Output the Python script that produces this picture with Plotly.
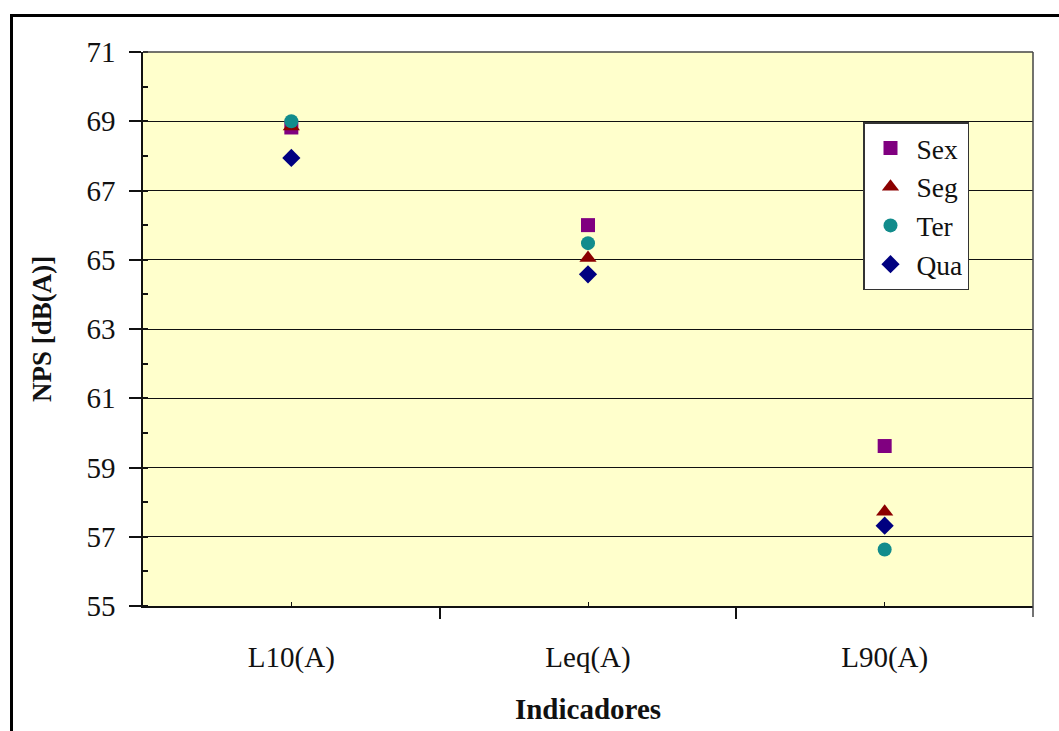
import plotly.graph_objects as go

# Indicator categories and sound pressure levels per weekday
categories = ["L10(A)", "Leq(A)", "L90(A)"]
sex = [68.82, 66.0, 59.62]
seg = [68.85, 65.05, 57.72]
ter = [69.0, 65.48, 56.63]
qua = [67.94, 64.58, 57.32]

series = [
    ("Sex", sex, "square", "#800080", 14),
    ("Seg", seg, "triangle-up", "#8B0000", 15),
    ("Ter", ter, "circle", "#128C8C", 14),
    ("Qua", qua, "diamond", "#000080", 14),
]

xpos = list(range(len(categories)))
serif = "Liberation Serif, Times New Roman, serif"

fig = go.Figure()
for name, vals, sym, col, sz in series:
    fig.add_trace(go.Scatter(
        x=xpos, y=vals, mode="markers", name=name, legendgroup=name,
        marker=dict(symbol=sym, color=col, size=sz, line=dict(width=0)),
    ))

L, R, T, B = 143, 26, 52, 125
W, H = 1059, 731
pw, ph = W - L - R, H - T - B

def px_x(px):
    return (px - L) / pw

def px_y(py):
    return (H - B - py) / ph

fig.update_layout(
    width=W, height=H,
    margin=dict(l=L, r=R, t=T, b=B, pad=0, autoexpand=False),
    paper_bgcolor="white",
    plot_bgcolor="#FFFFCC",
    font=dict(family=serif, size=29, color="#111"),
    showlegend=True,
    legend=dict(
        x=px_x(863), y=px_y(122), xanchor="left", yanchor="top",
        bgcolor="white", bordercolor="#333", borderwidth=1.5,
        font=dict(family=serif, size=27.5, color="#111"),
        tracegroupgap=0, traceorder="grouped",
        itemwidth=42,
    ),
    xaxis=dict(
        range=[-0.5, 2.5], tickvals=xpos, ticktext=categories,
        ticks="inside", ticklen=4, tickcolor="#111", tickwidth=1,
        showline=True, linecolor="#111", linewidth=1.5, mirror=False,
        showgrid=False, zeroline=False, automargin=False,
        ticklabelstandoff=24,
        tickfont=dict(family=serif, size=29, color="#111"),
        minor=dict(tick0=-0.5, dtick=1, ticks="outside", ticklen=11,
                   tickcolor="#111", tickwidth=1.5, showgrid=False),
        title=dict(text="<b>Indicadores</b>", standoff=26,
                   font=dict(family=serif, size=29, color="#111")),
    ),
    yaxis=dict(
        range=[55, 71], tick0=55, dtick=2,
        ticks="outside", ticklen=12, tickcolor="#111", tickwidth=1.5,
        showline=True, linecolor="#111", linewidth=1.5,
        showgrid=True, gridcolor="#111", gridwidth=1.3, zeroline=False,
        automargin=False,
        ticklabelstandoff=8,
        tickfont=dict(family=serif, size=29, color="#111"),
        minor=dict(dtick=1, tick0=55, ticks="inside", ticklen=5,
                   tickcolor="#111", tickwidth=1.5, showgrid=False),
        title=dict(text="<b>NPS [dB(A)]</b>", standoff=27,
                   font=dict(family=serif, size=27, color="#111")),
    ),
    shapes=[
        # top and right edges of the plotting area
        dict(type="line", xref="paper", yref="paper", x0=0, x1=1, y0=1, y1=1,
             line=dict(color="#444", width=1.5)),
        dict(type="line", xref="paper", yref="paper", x0=1, x1=1, y0=px_y(617), y1=1,
             line=dict(color="#444", width=1.5)),
        # outer chart frame
        dict(type="rect", xref="paper", yref="paper",
             x0=px_x(11.5), x1=px_x(1080), y0=px_y(760), y1=px_y(15.5),
             line=dict(color="black", width=3), fillcolor="rgba(0,0,0,0)"),
    ],
)

fig.write_html("out.html")
